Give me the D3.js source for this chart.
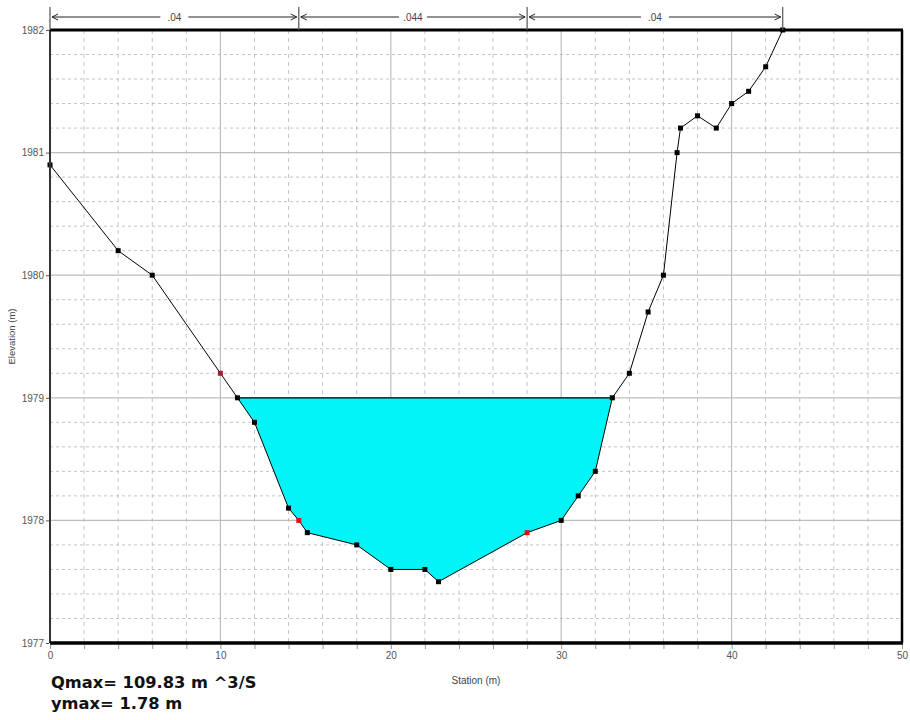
<!DOCTYPE html>
<html>
<head>
<meta charset="utf-8">
<script src="https://cdn.jsdelivr.net/npm/d3@7"></script>
<style>
  body { margin: 0; background: #fff; }
  svg { display: block; }
</style>
</head>
<body>
<svg></svg>
<script>
// ground profile
const station = [0, 4, 6, 10, 11, 12, 14, 14.6, 15.1, 18, 20, 22, 22.8, 28, 30, 31, 32, 33, 34, 35.1, 36, 36.8, 37, 38, 39.1, 40, 41, 42, 43];
const elevation = [1980.9, 1980.2, 1980.0, 1979.2, 1979.0, 1978.8, 1978.1, 1978.0, 1977.9, 1977.8, 1977.6, 1977.6, 1977.5, 1977.9, 1978.0, 1978.2, 1978.4, 1979.0, 1979.2, 1979.7, 1980.0, 1981.0, 1981.2, 1981.3, 1981.2, 1981.4, 1981.5, 1981.7, 1982.0];
const redStations = [10, 14.6, 28];

// manning n zones
const nBreaks = [0, 14.6, 28, 43];
const nLabels = [".04", ".044", ".04"];

const waterSurface = 1979.0;
const xTicks = [0, 10, 20, 30, 40, 50];
const yTicks = [1977, 1978, 1979, 1980, 1981, 1982];
const infoLines = ["Qmax= 109.83 m ^3/S", "ymax= 1.78 m"];

const pts = station.map((s, i) => ({x: s, y: elevation[i]}));

const width = 910, height = 720;
const margin = {top: 30, right: 8, bottom: 77, left: 50};

const svg = d3.select("svg")
    .attr("width", width)
    .attr("height", height);

const x = d3.scaleLinear().domain([0, 50]).range([margin.left, width - margin.right]);
const y = d3.scaleLinear().domain([1977, 1982]).range([height - margin.bottom, margin.top]);

// grid
const grid = svg.append("g");
grid.selectAll(".vminor")
    .data(d3.range(0, 51, 2).filter(d => d % 10 !== 0))
    .enter().append("line")
    .attr("x1", d => x(d)).attr("x2", d => x(d))
    .attr("y1", y(1982)).attr("y2", y(1977))
    .attr("stroke", "#c4c4c4").attr("stroke-dasharray", "4,4");
grid.selectAll(".hminor")
    .data(d3.range(0, 25).map(i => 1977 + i * 0.2).filter((d, i) => i % 5 !== 0))
    .enter().append("line")
    .attr("x1", x(0)).attr("x2", x(50))
    .attr("y1", d => y(d)).attr("y2", d => y(d))
    .attr("stroke", "#c4c4c4").attr("stroke-dasharray", "3,3");
grid.selectAll(".vmajor")
    .data(xTicks.slice(1, -1))
    .enter().append("line")
    .attr("x1", d => x(d)).attr("x2", d => x(d))
    .attr("y1", y(1982)).attr("y2", y(1977))
    .attr("stroke", "#bdbdbd").attr("stroke-width", 1.2);
grid.selectAll(".hmajor")
    .data(yTicks.slice(1, -1))
    .enter().append("line")
    .attr("x1", x(0)).attr("x2", x(50))
    .attr("y1", d => y(d)).attr("y2", d => y(d))
    .attr("stroke", "#bdbdbd").attr("stroke-width", 1.2);

// water polygon: part of ground below the water surface
const wet = [];
for (let i = 0; i < pts.length - 1; i++) {
  const a = pts[i], b = pts[i + 1];
  if (a.y <= waterSurface) wet.push(a);
  if ((a.y - waterSurface) * (b.y - waterSurface) < 0) {
    const t = (waterSurface - a.y) / (b.y - a.y);
    wet.push({x: a.x + t * (b.x - a.x), y: waterSurface});
  }
}
svg.append("path")
    .attr("d", d3.line().x(d => x(d.x)).y(d => y(d.y))(wet) + "Z")
    .attr("fill", "#00f6f6")
    .attr("stroke", "none");
svg.append("line")
    .attr("x1", x(wet[0].x)).attr("x2", x(wet[wet.length - 1].x))
    .attr("y1", y(waterSurface)).attr("y2", y(waterSurface))
    .attr("stroke", "#000").attr("stroke-width", 1.3);

// ground line
svg.append("path")
    .datum(pts)
    .attr("d", d3.line().x(d => x(d.x)).y(d => y(d.y)))
    .attr("fill", "none")
    .attr("stroke", "#000")
    .attr("stroke-width", 1);

svg.selectAll(".pt")
    .data(pts)
    .enter().append("rect")
    .attr("x", d => x(d.x) - 2.5)
    .attr("y", d => y(d.y) - 2.5)
    .attr("width", 5).attr("height", 5)
    .attr("fill", d => redStations.includes(d.x) ? (d.x === 10 ? "#a02030" : "#e01010") : "#000");

// frame
svg.append("line").attr("x1", x(0)).attr("x2", x(0)).attr("y1", y(1982)).attr("y2", y(1977))
    .attr("stroke", "#333").attr("stroke-width", 2);
svg.append("line").attr("x1", x(50)).attr("x2", x(50)).attr("y1", y(1982)).attr("y2", y(1977))
    .attr("stroke", "#000").attr("stroke-width", 2.5);
svg.append("line").attr("x1", x(0)).attr("x2", x(50) + 1).attr("y1", y(1982)).attr("y2", y(1982))
    .attr("stroke", "#000").attr("stroke-width", 3);
svg.append("line").attr("x1", x(0)).attr("x2", x(50) + 1).attr("y1", y(1977)).attr("y2", y(1977))
    .attr("stroke", "#000").attr("stroke-width", 3.5);

// axes
const xAxis = d3.axisBottom(x).tickValues(d3.range(0, 51, 2)).tickSize(4)
    .tickFormat(d => xTicks.includes(d) ? d : "");
svg.append("g")
    .attr("transform", `translate(0,${y(1977) + 2})`)
    .call(xAxis)
    .call(g => g.select(".domain").remove())
    .call(g => g.selectAll("line").attr("stroke", "#999"))
    .call(g => g.selectAll("text").attr("fill", "#555").attr("font-size", 10)
        .attr("font-family", "Liberation Sans Narrow, Liberation Sans, sans-serif"));

const yAxis = d3.axisLeft(y).tickValues(yTicks).tickSize(3).tickFormat(d3.format("d"));
svg.append("g")
    .attr("transform", `translate(${x(0) - 1},0)`)
    .call(yAxis)
    .call(g => g.select(".domain").remove())
    .call(g => g.selectAll("line").attr("stroke", "#555"))
    .call(g => g.selectAll("text").attr("fill", "#555").attr("font-size", 10)
        .attr("font-family", "Liberation Sans Narrow, Liberation Sans, sans-serif")
        .attr("dx", 1));

svg.append("text")
    .attr("transform", `translate(15,${(y(1977) + y(1982)) / 2}) rotate(-90)`)
    .attr("text-anchor", "middle")
    .attr("font-family", "Liberation Sans, sans-serif")
    .attr("font-size", 9.5).attr("fill", "#444")
    .text("Elevation (m)");

svg.append("text")
    .attr("x", (x(0) + x(50)) / 2).attr("y", 684)
    .attr("text-anchor", "middle")
    .attr("font-family", "Liberation Sans Narrow, Liberation Sans, sans-serif")
    .attr("font-size", 10).attr("fill", "#444")
    .text("Station (m)");

// roughness bar
const ny = 17;
svg.selectAll(".nbreak")
    .data(nBreaks)
    .enter().append("line")
    .attr("x1", d => x(d)).attr("x2", d => x(d))
    .attr("y1", 7).attr("y2", y(1982))
    .attr("stroke", "#555").attr("stroke-width", 1.2);

const zones = nLabels.map((t, i) => ({a: nBreaks[i], b: nBreaks[i + 1], t}));
const zg = svg.selectAll(".zone").data(zones).enter().append("g");
zg.append("line")
    .attr("x1", d => x(d.a) + 2).attr("x2", d => x(d.b) - 2)
    .attr("y1", ny).attr("y2", ny)
    .attr("stroke", "#222").attr("stroke-width", 1);
zg.append("path")
    .attr("d", d => `M${x(d.a) + 8},${ny - 3} L${x(d.a) + 2},${ny} L${x(d.a) + 8},${ny + 3}`)
    .attr("fill", "none").attr("stroke", "#222");
zg.append("path")
    .attr("d", d => `M${x(d.b) - 8},${ny - 3} L${x(d.b) - 2},${ny} L${x(d.b) - 8},${ny + 3}`)
    .attr("fill", "none").attr("stroke", "#222");
zg.append("rect")
    .attr("x", d => (x(d.a) + x(d.b)) / 2 - 14).attr("y", ny - 6)
    .attr("width", 28).attr("height", 12)
    .attr("fill", "#fff");
zg.append("text")
    .attr("x", d => (x(d.a) + x(d.b)) / 2).attr("y", ny + 4)
    .attr("text-anchor", "middle")
    .attr("font-family", "Liberation Sans Narrow, Liberation Sans, sans-serif")
    .attr("font-size", 10).attr("fill", "#444")
    .text(d => d.t);

// info text
svg.selectAll(".info")
    .data(infoLines)
    .enter().append("text")
    .attr("x", 51).attr("y", (d, i) => 688 + i * 21)
    .attr("font-family", "DejaVu Sans, sans-serif")
    .attr("font-weight", "bold")
    .attr("font-size", 16.3).attr("fill", "#111")
    .text(d => d);
</script>
</body>
</html>
